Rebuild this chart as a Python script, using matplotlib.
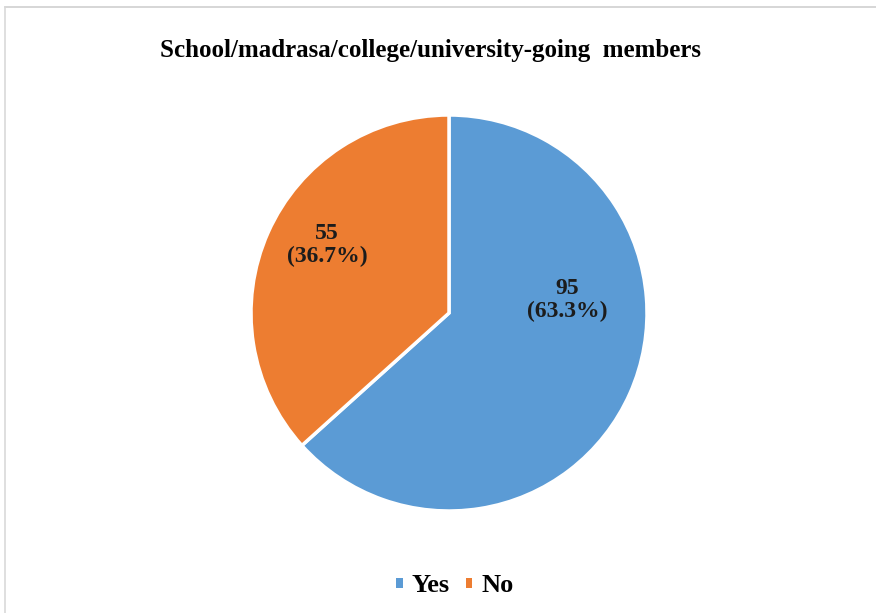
import matplotlib.pyplot as plt
from matplotlib.lines import Line2D
from matplotlib.patches import Patch

# data
labels = ['Yes', 'No']
counts = [95, 55]
colors = ['#5B9BD5', '#ED7D31']
title = 'School/madrasa/college/university-going  members'

plt.rcParams['font.family'] = ['Liberation Serif', 'DejaVu Serif']

W, H = 876, 613
fig = plt.figure(figsize=(W / 100, H / 100), dpi=100)

# pie centre ~(449, 313) px, radius ~198 px
cx, cy, r = 449, 313, 198
ax = fig.add_axes([(cx - r) / W, (H - cy - r) / H, 2 * r / W, 2 * r / H])

total = sum(counts)
wedges, _ = ax.pie(counts, colors=colors, startangle=90, counterclock=False,
                   radius=1.0, wedgeprops=dict(edgecolor='white', linewidth=2.5))
ax.set_xlim(-1, 1)
ax.set_ylim(-1, 1)
ax.set_aspect('equal')
ax.axis('off')

# data labels
label_pos = [(0.596, 0.066), (-0.616, 0.343)]
for c, (x, y) in zip(counts, label_pos):
    ax.text(x, y, '%d\n(%.1f%%)' % (c, 100.0 * c / total), ha='center', va='center',
            fontsize=17, fontweight='bold', color='#1c1c1c', linespacing=1.12)

fig.text(431 / W, 1 - 50 / H, title, ha='center', va='center',
         fontsize=18, fontweight='bold', color='black')

handles = [Patch(facecolor=c, edgecolor='none') for c in colors]
fig.legend(handles, labels, loc='center', bbox_to_anchor=(455 / W, 1 - 586 / H),
           ncol=2, frameon=False, prop={'weight': 'bold', 'size': 19},
           handlelength=0.25, handleheight=0.25, handletextpad=0.35, columnspacing=0.6)

# thin chart border (top and left visible)
fig.add_artist(Line2D([5 / W, 1], [1 - 7 / H, 1 - 7 / H], color='#d0d0d0', lw=1.2))
fig.add_artist(Line2D([5 / W, 5 / W], [0, 1 - 7 / H], color='#d9d9d9', lw=1.2))

fig.savefig('out.png', dpi=100)
